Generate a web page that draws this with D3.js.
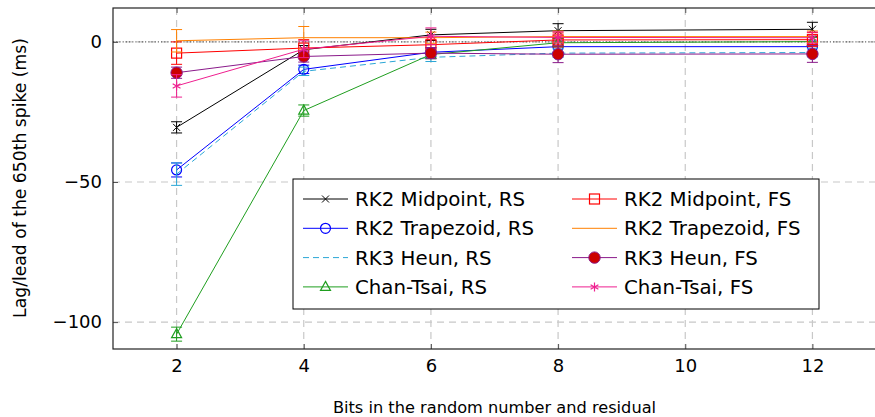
<!DOCTYPE html>
<html>
<head>
<meta charset="utf-8">
<script src="https://cdn.jsdelivr.net/npm/d3@7"></script>
<style>
  body { margin: 0; background: #fff; }
  svg { font-family: "DejaVu Sans", sans-serif; }
</style>
</head>
<body>
<svg id="chart" width="875" height="417"></svg>
<script>
  const bits = [2, 4, 6, 8, 12];
  const xTicks = [2, 4, 6, 8, 10, 12];
  const yTicks = [0, -50, -100];

  const midRS = [-30.5, -2.8, 2.5, 4, 4.5];
  const midRSErr = [2, 1.5, 2, 2.5, 2.5];
  const trapRS = [-45.7, -9.8, -3.7, -1.7, -1.7];
  const trapRSErr = [2.5, 1.5, 1.5, 2, 2];
  const heunRS = [-47.2, -10.5, -5.5, -4, -3.8];
  const heunRSErr = [4, 1.5, 1.5, 1.5, 1.5];
  const ctRS = [-104.3, -24.5, -4.5, -0.3, 0.1];
  const ctRSErr = [2.5, 2, 1.5, 1.5, 1.5];
  const midFS = [-4, -2.2, -1, 0.7, 0.8];
  const midFSErr = [4, 3, 2.5, 2.5, 2.5];
  const trapFS = [0.4, 1.5, 1.5, 1.9, 1.9];
  const trapFSErr = [4, 4, 2, 2, 2];
  const heunFS = [-11, -5.2, -4, -4.4, -4.3];
  const heunFSErr = [2, 2, 2, 3, 3];
  const ctFS = [-15.7, -2.6, 2, 1.6, 1.5];
  const ctFSErr = [4, 3, 3, 2, 2];

  const series = [
    { name: 'RK2 Midpoint, RS', y: midRS, err: midRSErr, color: '#000000', mark: 'x' },
    { name: 'RK2 Trapezoid, RS', y: trapRS, err: trapRSErr, color: '#0000ff', mark: 'o' },
    { name: 'RK3 Heun, RS', y: heunRS, err: heunRSErr, color: '#2aa6d6', mark: 'none', dash: '6,4' },
    { name: 'Chan-Tsai, RS', y: ctRS, err: ctRSErr, color: '#1f9e1f', mark: 'triangle' },
    { name: 'RK2 Midpoint, FS', y: midFS, err: midFSErr, color: '#ff0000', mark: 'square' },
    { name: 'RK2 Trapezoid, FS', y: trapFS, err: trapFSErr, color: '#ff8000', mark: 'none' },
    { name: 'RK3 Heun, FS', y: heunFS, err: heunFSErr, color: '#8a1a8a', mark: 'dot' },
    { name: 'Chan-Tsai, FS', y: ctFS, err: ctFSErr, color: '#ee1f8f', mark: 'star' }
  ];

  const svg = d3.select('#chart');
  const plotL = 113, plotR = 876, plotT = 8, plotB = 349;

  const x = d3.scaleLinear().domain([1, 13]).range([plotL, plotR]);
  const y = d3.scaleLinear().domain([-109.6, 12.1]).range([plotB, plotT]);

  // grid
  const grid = svg.append('g').attr('stroke', '#c8c8c8').attr('stroke-dasharray', '7,5').attr('stroke-width', 1.2);
  grid.selectAll('.gx').data(xTicks).enter().append('line')
    .attr('x1', d => x(d)).attr('x2', d => x(d)).attr('y1', plotT).attr('y2', plotB);
  grid.selectAll('.gy').data(yTicks).enter().append('line')
    .attr('x1', plotL).attr('x2', plotR).attr('y1', d => y(d)).attr('y2', d => y(d));

  // zero line
  svg.append('line')
    .attr('x1', plotL).attr('x2', plotR).attr('y1', y(0)).attr('y2', y(0))
    .attr('stroke', '#444').attr('stroke-dasharray', '1.2,2').attr('stroke-width', 1);

  // axes with inward ticks
  svg.append('g').attr('transform', `translate(0,${plotB})`)
    .call(d3.axisBottom(x).tickValues(xTicks).tickSize(-5).tickPadding(10).tickSizeOuter(0));
  svg.append('g').attr('transform', `translate(0,${plotT})`)
    .call(d3.axisTop(x).tickValues(xTicks).tickSize(-5).tickFormat('').tickSizeOuter(0));
  svg.append('g').attr('transform', `translate(${plotL},0)`)
    .call(d3.axisLeft(y).tickValues(yTicks).tickSize(-5).tickPadding(11).tickSizeOuter(0)
      .tickFormat(d => d < 0 ? '\u2212' + Math.abs(d) : d));
  svg.selectAll('.domain').remove();
  svg.selectAll('.tick line').attr('stroke', '#555');
  svg.selectAll('.tick text').attr('font-size', 18).attr('fill', '#000').attr('font-family', '"DejaVu Sans", sans-serif');

  svg.append('rect').attr('x', plotL).attr('y', plotT).attr('width', plotR - plotL).attr('height', plotB - plotT)
    .attr('fill', 'none').attr('stroke', '#222').attr('stroke-width', 1.2);

  function drawMark(g, kind, cx, cy, color) {
    if (kind === 'x') {
      g.append('path').attr('d', `M${cx - 3.5},${cy - 3.5}L${cx + 3.5},${cy + 3.5}M${cx - 3.5},${cy + 3.5}L${cx + 3.5},${cy - 3.5}`)
        .attr('stroke', color).attr('stroke-width', 1);
    } else if (kind === 'o') {
      g.append('circle').attr('cx', cx).attr('cy', cy).attr('r', 5).attr('fill', 'none').attr('stroke', color).attr('stroke-width', 1.2);
    } else if (kind === 'triangle') {
      g.append('path').attr('d', `M${cx},${cy - 5.5}L${cx + 5},${cy + 3.5}L${cx - 5},${cy + 3.5}Z`)
        .attr('fill', 'none').attr('stroke', color).attr('stroke-width', 1.2);
    } else if (kind === 'square') {
      g.append('rect').attr('x', cx - 5).attr('y', cy - 5).attr('width', 10).attr('height', 10)
        .attr('fill', 'none').attr('stroke', color).attr('stroke-width', 1.2);
    } else if (kind === 'dot') {
      g.append('circle').attr('cx', cx).attr('cy', cy).attr('r', 5.7).attr('fill', '#cc0000').attr('stroke', color).attr('stroke-width', 1);
    } else if (kind === 'star') {
      let d = '';
      for (let i = 0; i < 3; i++) {
        const a = Math.PI / 2 + i * Math.PI / 3;
        d += `M${cx + 4.5 * Math.cos(a)},${cy + 4.5 * Math.sin(a)}L${cx - 4.5 * Math.cos(a)},${cy - 4.5 * Math.sin(a)}`;
      }
      g.append('path').attr('d', d).attr('stroke', color).attr('stroke-width', 1.2);
    }
  }

  const line = d3.line().x(d => x(d[0])).y(d => y(d[1]));

  series.forEach(s => {
    const g = svg.append('g');
    const pts = bits.map((b, i) => [b, s.y[i], s.err[i]]);
    g.append('path').datum(pts).attr('d', line)
      .attr('fill', 'none').attr('stroke', s.color).attr('stroke-width', 1)
      .attr('stroke-dasharray', s.dash || null);
    pts.forEach(p => {
      const cx = x(p[0]);
      const y1 = y(p[1] - p[2]), y2 = y(p[1] + p[2]);
      g.append('path').attr('d', `M${cx},${y1}L${cx},${y2}M${cx - 5.5},${y1}L${cx + 5.5},${y1}M${cx - 5.5},${y2}L${cx + 5.5},${y2}`)
        .attr('stroke', s.color).attr('stroke-width', 1).attr('fill', 'none');
      drawMark(g, s.mark, cx, y(p[1]), s.color);
    });
  });

  // legend
  const lg = svg.append('g');
  lg.append('rect').attr('x', 293).attr('y', 179).attr('width', 526).attr('height', 130)
    .attr('fill', '#fff').attr('stroke', '#000').attr('stroke-width', 1);
  series.forEach((s, i) => {
    const col = Math.floor(i / 4), row = i % 4;
    const lx = col === 0 ? 303 : 572;
    const ly = 199 + row * 29.3;
    lg.append('line').attr('x1', lx).attr('x2', lx + 45).attr('y1', ly).attr('y2', ly)
      .attr('stroke', s.color).attr('stroke-width', 1).attr('stroke-dasharray', s.dash || null);
    drawMark(lg, s.mark, lx + 22.5, ly, s.color);
    lg.append('text').attr('x', lx + 52).attr('y', ly).attr('dy', '0.36em')
      .attr('font-size', 19.8).text(s.name);
  });

  // axis labels
  svg.append('text').attr('x', (plotL + plotR) / 2).attr('y', 413).attr('text-anchor', 'middle')
    .attr('font-size', 16.2).text('Bits in the random number and residual');
  svg.append('text').attr('transform', `translate(26,178) rotate(-90)`)
    .attr('text-anchor', 'middle').attr('font-size', 17.2).text('Lag/lead of the 650th spike (ms)');
</script>
</body>
</html>
